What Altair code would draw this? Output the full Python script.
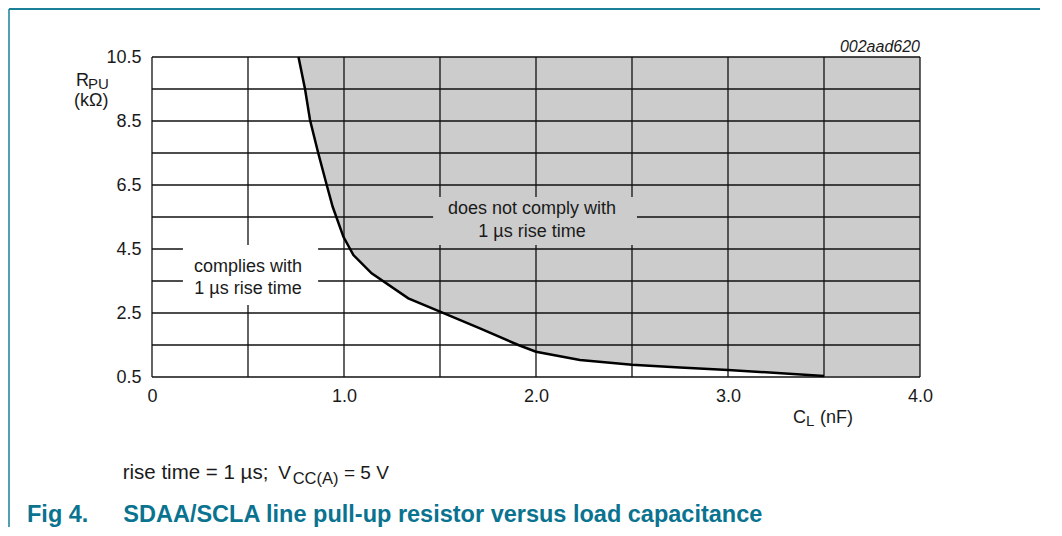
import altair as alt
import pandas as pd

# ---- data ----
cl_nf = [0.763, 0.797, 0.823, 0.866, 0.91, 0.941, 0.997, 1.049, 1.144, 1.335,
         1.5, 1.708, 1.908, 2.0, 2.229, 2.5, 2.75, 3.0, 3.5]
rpu_kohm = [10.5, 9.5, 8.53, 7.49, 6.5, 5.82, 4.88, 4.31, 3.74, 2.96,
            2.54, 2.02, 1.5, 1.29, 1.03, 0.88, 0.8, 0.72, 0.53]

x_grid = [0, 0.5, 1.0, 1.5, 2.0, 2.5, 3.0, 3.5, 4.0]
y_grid = [0.5, 1.5, 2.5, 3.5, 4.5, 5.5, 6.5, 7.5, 8.5, 9.5, 10.5]
x_ticks = [0, 1.0, 2.0, 3.0, 4.0]
y_ticks = [0.5, 2.5, 4.5, 6.5, 8.5, 10.5]

note_x = [1.979, 1.979, 0.5, 0.5]
note_y = [5.59, 4.88, 3.79, 3.09]
note_text = ["does not comply with", "1 \u00b5s rise time",
             "complies with", "1 \u00b5s rise time"]

box_x = [1.464, 0.161]
box_x2 = [2.526, 0.865]
box_y = [4.625, 2.75]
box_y2 = [6.125, 4.625]
box_fill = ["#cccccc", "#ffffff"]

FONT = "Liberation Sans"
INK = "#1a1a1a"
TEAL = "#1a7f99"
CAPTION = "#0a7390"

xs = alt.Scale(domain=[0, 4], nice=False, zero=False)
ys = alt.Scale(domain=[0.5, 10.5], nice=False, zero=False)

area_df = pd.DataFrame({"x": cl_nf + [4.0], "y": rpu_kohm + [0.5]})
area_df["top"] = 10.5
curve_df = pd.DataFrame({"x": cl_nf, "y": rpu_kohm})

area = alt.Chart(area_df).mark_area(color="#cccccc", opacity=1, interpolate="linear").encode(
    x=alt.X("x:Q", scale=xs, axis=alt.Axis(
        values=x_ticks, labelExpr="datum.value == 0 ? '0' : format(datum.value, '.1f')",
        grid=False, ticks=False, domain=False, title=None, labelFont=FONT,
        labelFontSize=18, labelColor=INK, labelPadding=10, labelFlush=False,
        labelOverlap=False, orient="bottom")),
    y=alt.Y("y:Q", scale=ys, axis=alt.Axis(
        values=y_ticks, format=".1f", grid=False, ticks=False, domain=False,
        title=None, labelFont=FONT, labelFontSize=18, labelColor=INK,
        labelPadding=11, labelOverlap=False, labelFlush=False, orient="left")),
    y2=alt.Y2("top:Q"),
)

vgrid = alt.Chart(pd.DataFrame({"gx": x_grid})).mark_rule(color="#111111", strokeWidth=1.3).encode(
    x=alt.X("gx:Q", scale=xs, axis=None))
hgrid = alt.Chart(pd.DataFrame({"gy": y_grid})).mark_rule(color="#111111", strokeWidth=1.3).encode(
    y=alt.Y("gy:Q", scale=ys, axis=None))

boxes = alt.Chart(pd.DataFrame({"x": box_x, "x2": box_x2, "y": box_y, "y2": box_y2,
                                "fill": box_fill})).mark_rect(strokeWidth=0).encode(
    x=alt.X("x:Q", scale=xs, axis=None), x2="x2:Q",
    y=alt.Y("y:Q", scale=ys, axis=None), y2="y2:Q",
    color=alt.Color("fill:N", scale=None))

curve = alt.Chart(curve_df).mark_line(color="#000000", strokeWidth=2.5).encode(
    x=alt.X("x:Q", scale=xs, axis=None), y=alt.Y("y:Q", scale=ys, axis=None))

notes = alt.Chart(pd.DataFrame({"x": note_x, "y": note_y, "t": note_text})).mark_text(
    font=FONT, fontSize=18, color=INK, align="center", baseline="alphabetic").encode(
    x=alt.X("x:Q", scale=xs, axis=None), y=alt.Y("y:Q", scale=ys, axis=None), text="t:N")


def label(txt, px, py, size, align="left", baseline="alphabetic", color=INK,
          weight="normal", style="normal"):
    return alt.Chart(pd.DataFrame({"t": [txt]})).mark_text(
        font=FONT, fontSize=size, color=color, align=align, baseline=baseline,
        fontWeight=weight, fontStyle=style).encode(
        x=alt.value(px), y=alt.value(py), text="t:N")


texts = [
    label("002aad620", 768, -5.5, 16, align="right", style="italic"),
    label("R", -76, 29, 18),
    label("PU", -64, 31.5, 15),
    label("(k\u03a9)", -78, 49, 18),
    label("C", 641, 365.7, 18),
    label("L", 654, 369, 15),
    label("(nF)", 668, 365.7, 18),
    label("rise time = 1 \u00b5s;", -29.3, 422.3, 20.5),
    label("V", 126.3, 422.3, 19),
    label("CC(A)", 140.7, 427.3, 16.5),
    label("= 5 V", 192, 422.3, 19),
    label("Fig 4.", -125, 464.7, 23.5, color=CAPTION, weight="bold"),
    label("SDAA/SCLA line pull-up resistor versus load capacitance", -28.7, 464.7,
          23.5, color=CAPTION, weight="bold"),
]

one = pd.DataFrame({"a": [0]})
border_top = alt.Chart(one).mark_rule(color=TEAL, strokeWidth=2).encode(
    x=alt.value(-143), x2=alt.value(902), y=alt.value(-48))
border_left = alt.Chart(one).mark_rule(color=TEAL, strokeWidth=1.5).encode(
    x=alt.value(-143), y=alt.value(-48), y2=alt.value(472))

chart = alt.layer(area, vgrid, hgrid, boxes, curve, notes, *texts, border_top, border_left).resolve_axis(
    x="independent", y="independent"
).properties(
    width=768, height=320,
    autosize=alt.AutoSizeParams(type="none"),
    padding={"left": 144, "top": 49, "right": 120, "bottom": 150},
).configure_view(stroke=None)

chart.save("out.html", embed_options={"renderer": "svg", "actions": False})
